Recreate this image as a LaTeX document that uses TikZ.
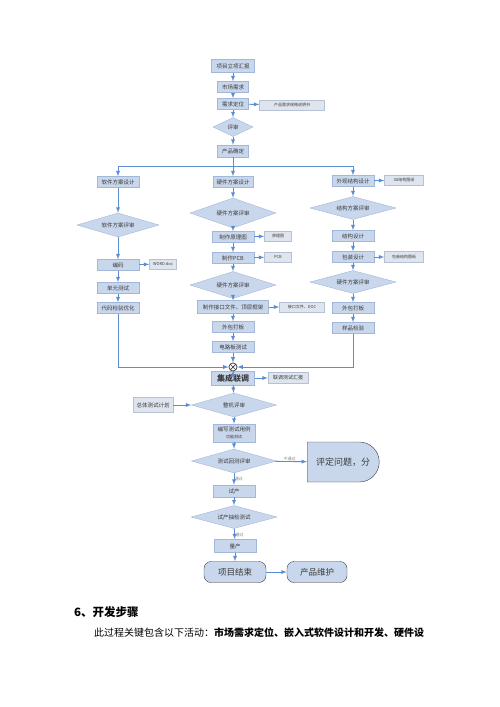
\documentclass[tikz,border=0pt]{standalone}
\usepackage{fontspec}
\setmainfont{Noto Sans CJK SC}
\usepackage{tikz}
\usetikzlibrary{shapes.geometric, shapes.misc, arrows}

\definecolor{boxblue}{HTML}{C9D7EC}
\definecolor{boxline}{HTML}{A3B8D8}
\definecolor{docfill}{HTML}{DFE5EE}
\definecolor{docline}{HTML}{B6C2D4}
\definecolor{flowblue}{HTML}{5A8ED4}
\definecolor{textgray}{HTML}{3A3A3A}
\definecolor{darkline}{HTML}{3C3C3C}

\tikzset{
  box/.style={draw=boxline, fill=boxblue, minimum width=42pt, minimum height=11pt,
    inner sep=0pt, text=textgray, font=\fontsize{5.5}{6}\selectfont},
  doc/.style={draw=docline, fill=docfill, minimum width=27pt, minimum height=10pt,
    inner sep=0pt, text=textgray, font=\fontsize{4}{5}\selectfont},
  check/.style={diamond, aspect=4, draw=boxline, fill=boxblue, minimum width=86pt, minimum height=26pt,
    inner sep=0pt, text=textgray, font=\fontsize{5.5}{6}\selectfont},
  endbox/.style={draw=darkline, fill=boxblue, rounded corners=7pt, minimum width=62pt,
    minimum height=21pt, inner sep=0pt, text=textgray, font=\fontsize{8.5}{10}\selectfont},
  flow/.style={-latex, draw=flowblue, line width=0.9pt},
  link/.style={draw=flowblue, line width=0.9pt},
  tag/.style={inner sep=0.5pt, text=gray, font=\fontsize{4}{5}\selectfont},
}

\begin{document}
\begin{tikzpicture}[x=1pt, y=-1pt]
\useasboundingbox (0,0) rectangle (500,707);

% top chain
\node[box, minimum width=43pt, minimum height=13pt] (report) at (233,66) {项目立项汇报};
\node[box, minimum width=31pt] (market) at (233,87) {市场需求};
\node[box, minimum width=31pt] (define) at (233,104) {需求定位};
\node[doc, minimum width=65pt] (spec) at (292,105) {产品需求规格说明书};
\node[check, minimum width=40pt, minimum height=19pt] (review) at (233,127) {评审};
\node[box, minimum width=31pt, minimum height=12pt] (confirm) at (233,151) {产品确定};
\coordinate (split) at (233,166);

% software
\node[box] (swdesign) at (118,182) {软件方案设计};
\node[check, minimum width=82pt, minimum height=24pt] (swreview) at (118,225) {软件方案评审};
\node[box] (coding) at (118,265) {编码};
\node[doc] (swdoc) at (163,264) {WORD.doc};
\node[box] (unittest) at (118,288) {单元测试};
\node[box] (optimize) at (118,308) {代码检验优化};

% hardware
\node[box, minimum width=40pt] (hwdesign) at (233,182) {硬件方案设计};
\node[check, minimum height=30pt] (hwreview) at (233,213) {硬件方案评审};
\node[box] (schematic) at (233,237) {制作原理图};
\node[doc] (schdoc) at (278,236) {原理图};
\node[box] (pcb) at (233,258) {制作PCB};
\node[doc] (pcbdoc) at (278,257) {PCB};
\node[check, minimum height=27pt] (hwreview2) at (233,285) {硬件方案评审};
\node[box, minimum width=71pt, minimum height=13pt] (iface) at (233,307) {制作接口文件、顶层框架};
\node[doc, minimum width=45pt] (ifacedoc) at (302,307) {接口文件、DOC};
\node[box] (hwboard) at (233,327) {外包打板};
\node[box] (boardtest) at (233,347) {电路板测试};

% structure
\node[box] (mechdesign) at (353,181) {外观结构设计};
\node[doc, minimum width=39pt] (mechdoc) at (404,180) {3D结构图纸};
\node[check, minimum height=23pt] (mechreview) at (353,208) {结构方案评审};
\node[box] (structure) at (353,236) {结构设计};
\node[box] (package) at (353,257) {包装设计};
\node[doc, minimum width=39pt, minimum height=11pt] (packdoc) at (404,257) {包装结构图纸};
\node[check, minimum height=23pt] (mechreview2) at (353,282) {硬件方案评审};
\node[box] (mechboard) at (353,308) {外包打板};
\node[box] (inspect) at (353,328) {样品检验};

% merge and test
\node[draw=darkline, fill=white, circle, minimum size=8pt, inner sep=0pt, line width=0.7pt] (merge) at (233,367) {};
\node[box, minimum width=43pt, minimum height=14pt, font=\fontsize{8}{9}\selectfont\bfseries] (integrate) at (233,378) {集成联调};
\node[doc, minimum width=40pt, minimum height=11pt, font=\fontsize{5}{6}\selectfont] (integdoc) at (288,378) {联调测试汇报};
\node[check, minimum width=85pt, minimum height=24pt] (sysreview) at (234,405) {整机评审};
\node[doc, minimum width=40pt, minimum height=15pt, font=\fontsize{5.5}{6}\selectfont] (testplan) at (153,405) {总体测试计划};
\node[box, minimum height=18pt, align=center] (testcase) at (234,433) {编写测试用例\\[1.5pt]{\fontsize{4}{4}\selectfont 功能测试}};
\node[check, minimum width=85pt, minimum height=24pt] (retest) at (234,461) {测试回测评审};
\node[draw=darkline, fill=boxblue, rounded rectangle, rounded rectangle west arc=none,
  minimum width=72pt, minimum height=40pt, inner sep=0pt, text=textgray,
  font=\fontsize{9}{10}\selectfont] (issue) at (343,462) {评定问题，分};
\node[box, minimum height=12pt] (trial) at (234,491) {试产};
\node[check, minimum height=23pt] (trialtest) at (234,517) {试产抽检测试};
\node[box, minimum height=13pt] (mass) at (235,546) {量产};
\node[endbox] (finish) at (235,572) {项目结束};
\node[endbox, minimum width=60pt] (maintain) at (317,572) {产品维护};

% text below
\node[anchor=west, inner sep=0pt, font=\fontsize{11.5}{13}\selectfont\bfseries] (heading) at (74,612) {6、开发步骤};
\node[anchor=west, inner sep=0pt, font=\fontsize{10}{12}\selectfont] (para) at (94,633) {此过程关键包含以下活动：\textbf{市场需求定位、嵌入式软件设计和开发、硬件设}};

% connectors
\draw[flow] (report) -- (market);
\draw[flow] (market) -- (define);
\draw[flow] (define) -- (spec);
\draw[flow] (define) -- (review);
\draw[flow] (review) -- (confirm);
\draw[link] (confirm) -- (split);
\draw[flow] (split) -| (swdesign);
\draw[flow] (split) -- (hwdesign);
\draw[flow] (split) -| (mechdesign);

\draw[flow] (swdesign) -- (swreview);
\draw[flow] (swreview) -- (coding);
\draw[flow] (coding) -- (swdoc);
\draw[flow] (coding) -- (unittest);
\draw[flow] (unittest) -- (optimize);
\draw[flow] (optimize) |- (merge);

\draw[flow] (hwdesign) -- (hwreview);
\draw[flow] (hwreview) -- (schematic);
\draw[flow] (schematic) -- (schdoc);
\draw[flow] (schematic) -- (pcb);
\draw[flow] (pcb) -- (pcbdoc);
\draw[flow] (pcb) -- (hwreview2);
\draw[flow] (hwreview2) -- (iface);
\draw[flow] (iface) -- (ifacedoc);
\draw[flow] (iface) -- (hwboard);
\draw[flow] (hwboard) -- (boardtest);
\draw[flow] (boardtest) -- (merge);

\draw[flow] (mechdesign) -- (mechdoc);
\draw[flow] (mechdesign) -- (mechreview);
\draw[flow] (mechreview) -- (structure);
\draw[flow] (structure) -- (package);
\draw[flow] (package) -- (packdoc);
\draw[flow] (package) -- (mechreview2);
\draw[flow] (mechreview2) -- (mechboard);
\draw[flow] (mechboard) -- (inspect);
\draw[flow] (inspect) |- (merge);

\draw[darkline, line width=0.7pt] (merge.north west) -- (merge.south east);
\draw[darkline, line width=0.7pt] (merge.north east) -- (merge.south west);

\draw[flow] (merge) -- (integrate);
\draw[flow] (integrate) -- (integdoc);
\draw[flow] (integrate) -- (sysreview);
\draw[flow] (testplan) -- (sysreview);
\draw[flow] (sysreview) -- (testcase);
\draw[flow] (testcase) -- (retest);
\draw[flow] (retest) -- node[tag, above, pos=0.45] {不通过} (issue);
\draw[flow] (retest) -- node[tag, right, pos=0.5] {通过} (trial);
\draw[flow] (trial) -- (trialtest);
\draw[flow] (trialtest) -- node[tag, right, pos=0.55] {通过} (mass);
\draw[flow] (mass) -- (finish);
\draw[flow] (finish) -- (maintain);

\end{tikzpicture}
\end{document}
